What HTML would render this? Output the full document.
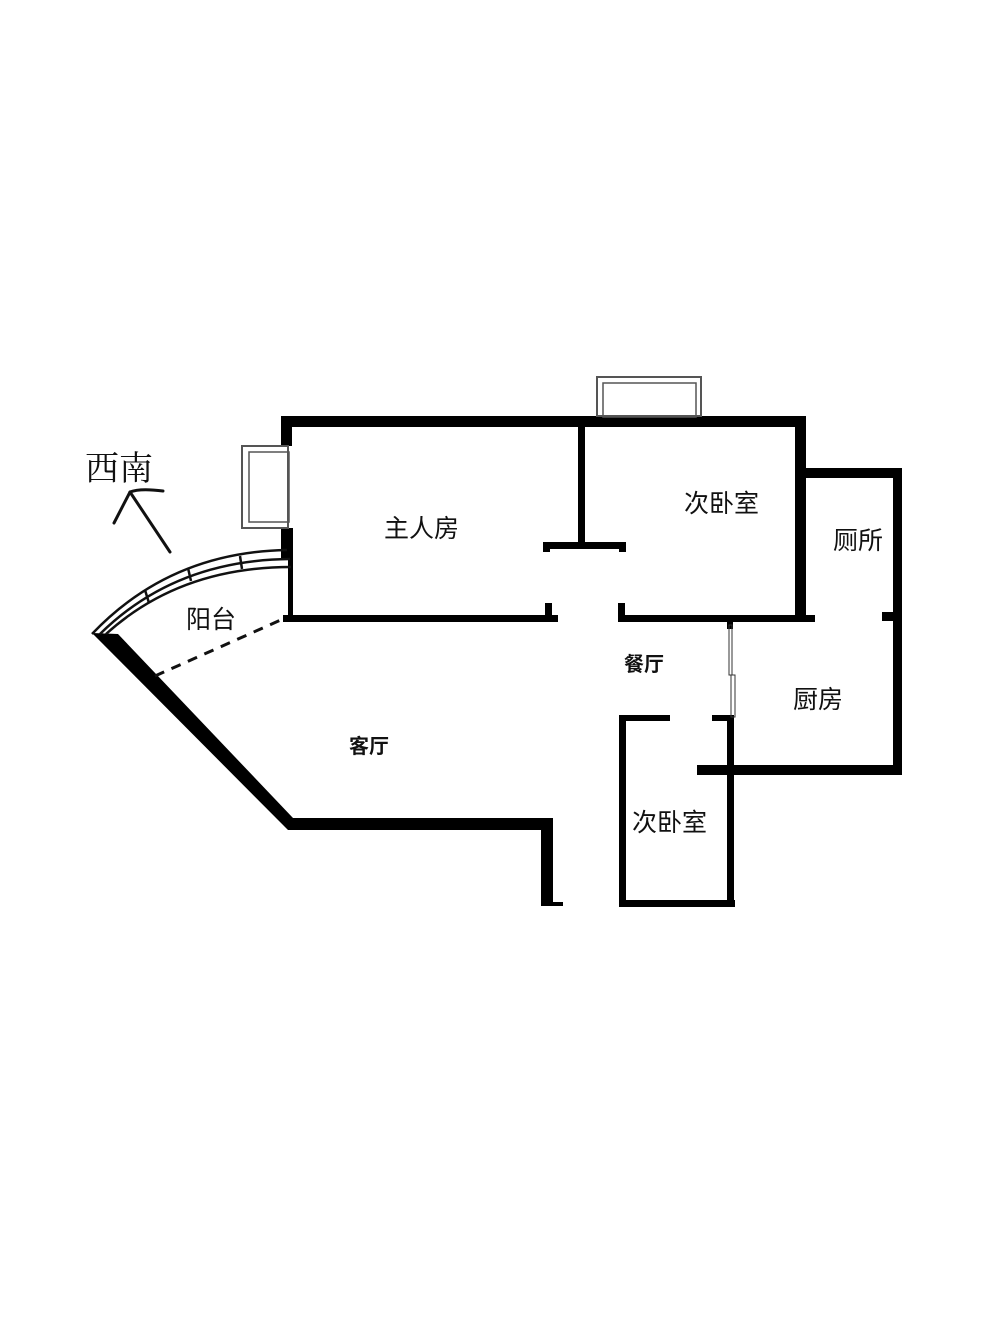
<!DOCTYPE html>
<html><head><meta charset="utf-8"><style>
html,body{margin:0;padding:0;background:#fff;}
svg{display:block;}
text{font-family:"Liberation Sans","Noto Sans CJK SC",sans-serif;fill:#111;}
</style></head><body>
<svg width="1000" height="1333" viewBox="0 0 1000 1333" xmlns="http://www.w3.org/2000/svg">
<rect width="1000" height="1333" fill="#fff"/>
<g fill="#000">
<!-- top wall -->
<rect x="281" y="416" width="525" height="11"/>
<!-- master left wall -->
<rect x="281" y="416" width="11" height="30"/>
<rect x="281" y="528" width="12" height="30"/>
<rect x="288" y="555" width="5" height="66"/>
<!-- master bottom -->
<rect x="283" y="615" width="275" height="7"/>
<rect x="545" y="603" width="7" height="14"/>
<!-- partition -->
<rect x="578" y="416" width="7" height="130"/>
<rect x="543" y="542" width="83" height="7"/>
<rect x="543" y="542" width="7" height="10"/>
<rect x="619" y="542" width="7" height="10"/>
<!-- bedroom right wall -->
<rect x="795" y="416" width="11" height="205"/>
<!-- bedroom bottom -->
<rect x="618" y="615" width="197" height="7"/>
<rect x="618" y="603" width="7" height="14"/>
<!-- toilet -->
<rect x="800" y="468" width="102" height="10"/>
<rect x="893" y="468" width="9" height="307"/>
<rect x="882" y="612" width="20" height="9"/>
<!-- kitchen bottom -->
<rect x="697" y="765" width="205" height="10"/>
<!-- small bedroom -->
<rect x="619" y="715" width="7" height="192"/>
<rect x="619" y="715" width="51" height="6"/>
<rect x="712" y="715" width="22" height="6"/>
<rect x="727" y="715" width="7" height="192"/>
<rect x="619" y="900" width="116" height="7"/>
<!-- living diagonal -->
<polygon points="92,633 118,634 293,818 293,830 288,830"/>
<rect x="288" y="818" width="265" height="12"/>
<rect x="541" y="818" width="12" height="88"/>
<rect x="541" y="902" width="22" height="4"/>
<!-- sliding door post -->
<rect x="727" y="621" width="6" height="8"/>
</g>
<!-- sliding door -->
<rect x="729" y="625" width="3" height="50" fill="none" stroke="#333" stroke-width="1"/>
<rect x="731" y="675" width="4" height="42" fill="none" stroke="#333" stroke-width="1"/>
<!-- windows -->
<g fill="none" stroke="#555">
<rect x="242" y="446" width="46" height="82" stroke-width="2"/>
<rect x="249" y="452" width="40" height="70" stroke-width="1.5"/>
<rect x="597" y="377" width="104" height="39" stroke-width="2"/>
<rect x="603" y="383" width="93" height="34" stroke-width="1.5"/>
</g>
<!-- balcony arc -->
<g fill="none" stroke="#111" stroke-width="2.5">
<path d="M92,634 Q170,552 287,550"/>
<path d="M100,634 Q175,560 290,559"/>
<path d="M106,634 Q180,567 291,567"/>
<line x1="145" y1="590" x2="149" y2="603"/>
<line x1="188" y1="568" x2="191" y2="581"/>
<line x1="240" y1="556" x2="242" y2="569"/>
</g>
<line x1="155" y1="676" x2="283" y2="619" stroke="#111" stroke-width="3" stroke-dasharray="10,8"/>
<!-- compass -->
<g fill="none" stroke="#111" stroke-width="3" stroke-linecap="round">
<path d="M114,523 L130,492 Q140,488 163,491"/>
<path d="M130,492 L170,552"/>
</g>
<text x="85" y="480" font-size="34" font-family="Liberation Serif,'Noto Serif CJK SC',serif" style="font-family:'Liberation Serif','Noto Serif CJK SC',serif">西南</text>
<g font-size="25">
<text x="384" y="537">主人房</text>
<text x="684" y="512">次卧室</text>
<text x="833" y="549">厕所</text>
<text x="186" y="628">阳台</text>
<text x="793" y="708">厨房</text>
<text x="632" y="831">次卧室</text>
</g>
<g font-size="20" font-weight="bold">
<text x="624" y="671">餐厅</text>
<text x="349" y="753">客厅</text>
</g>
</svg>
</body></html>
